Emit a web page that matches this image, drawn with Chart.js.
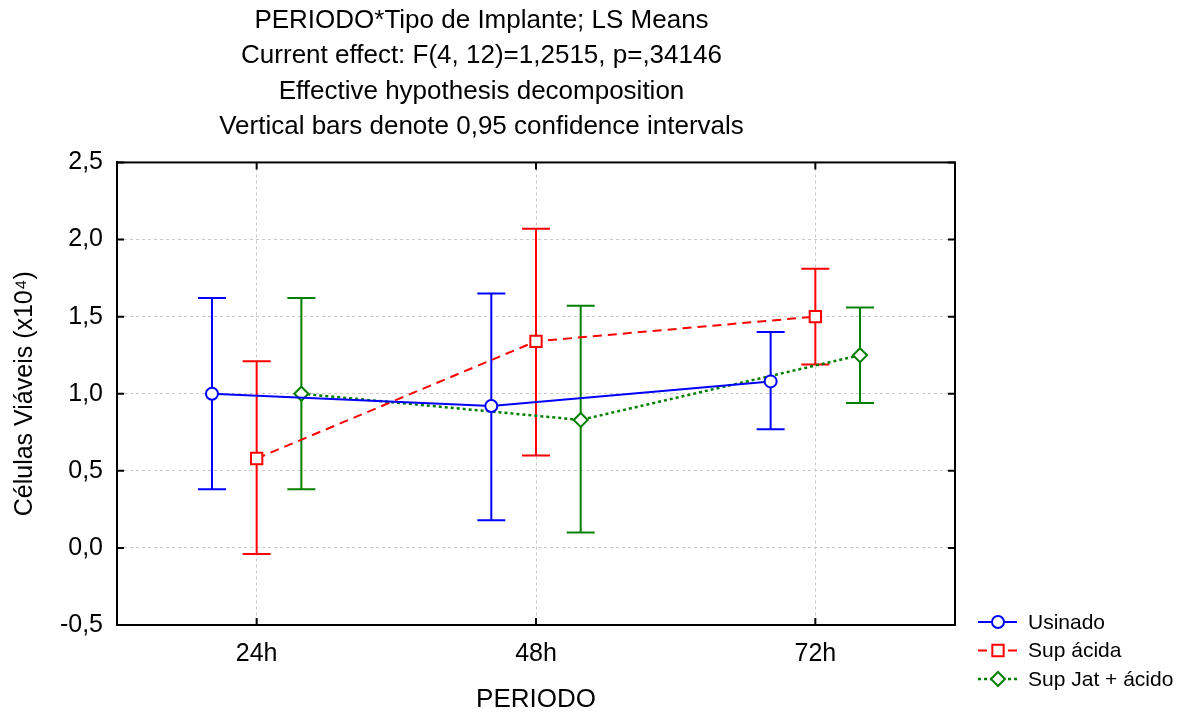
<!DOCTYPE html>
<html>
<head>
<meta charset="utf-8">
<script src="https://cdn.jsdelivr.net/npm/chart.js@4.4.0/dist/chart.umd.min.js"></script>
<style>
html, body { margin: 0; padding: 0; background: #fff; }
#wrap { width: 1194px; height: 713px; }
</style>
</head>
<body>
<div id="wrap"><canvas id="grafico"></canvas></div>
<script>
var periodos = ['24h', '48h', '72h'];

var usinado    = [1.00, 0.92, 1.08];
var usinadoMin = [0.38, 0.18, 0.77];
var usinadoMax = [1.62, 1.65, 1.40];

var supAcida    = [0.58, 1.34, 1.50];
var supAcidaMin = [-0.04, 0.60, 1.19];
var supAcidaMax = [1.21, 2.07, 1.81];

var supJat    = [1.00, 0.83, 1.25];
var supJatMin = [0.38, 0.10, 0.94];
var supJatMax = [1.62, 1.57, 1.56];

var titulo = [
    'PERIODO*Tipo de Implante; LS Means',
    'Current effect: F(4, 12)=1,2515, p=,34146',
    'Effective hypothesis decomposition',
    'Vertical bars denote 0,95 confidence intervals'
];

var fonte = "'Liberation Sans', Arial, Helvetica, sans-serif";

// each series sits a little left / right of the category
function pontos(vals, mins, maxs, desloc) {
    var out = [];
    for (var i = 0; i < vals.length; i++) {
        out.push({ x: i + 1 + desloc, y: vals[i], lo: mins[i], hi: maxs[i] });
    }
    return out;
}

// vertical bars = confidence intervals
var barrasErro = {
    id: 'barrasErro',
    beforeDatasetsDraw: function(chart) {
        var ctx = chart.ctx;
        var ys = chart.scales.y;
        chart.data.datasets.forEach(function(ds, di) {
            var meta = chart.getDatasetMeta(di);
            ctx.save();
            ctx.strokeStyle = ds.borderColor;
            ctx.lineWidth = 2;
            meta.data.forEach(function(pt, i) {
                var raw = ds.data[i];
                var yl = ys.getPixelForValue(raw.lo);
                var yh = ys.getPixelForValue(raw.hi);
                ctx.beginPath();
                ctx.moveTo(pt.x, yl); ctx.lineTo(pt.x, yh);
                ctx.moveTo(pt.x - 14, yl); ctx.lineTo(pt.x + 14, yl);
                ctx.moveTo(pt.x - 14, yh); ctx.lineTo(pt.x + 14, yh);
                ctx.stroke();
            });
            ctx.restore();
        });
    }
};

// box around the plot, inner ticks, and the legend at the bottom right
var moldura = {
    id: 'moldura',
    afterDraw: function(chart) {
        var ctx = chart.ctx;
        var a = chart.chartArea;
        ctx.save();
        ctx.strokeStyle = '#000';
        ctx.lineWidth = 2;
        ctx.strokeRect(a.left, a.top, a.right - a.left, a.bottom - a.top);
        ctx.beginPath();
        chart.scales.y.ticks.forEach(function(t) {
            var y = chart.scales.y.getPixelForValue(t.value);
            ctx.moveTo(a.left, y); ctx.lineTo(a.left + 7, y);
            ctx.moveTo(a.right, y); ctx.lineTo(a.right - 7, y);
        });
        chart.scales.x.ticks.forEach(function(t) {
            var x = chart.scales.x.getPixelForValue(t.value);
            ctx.moveTo(x, a.bottom); ctx.lineTo(x, a.bottom - 7);
            ctx.moveTo(x, a.top); ctx.lineTo(x, a.top + 7);
        });
        ctx.stroke();

        // legend
        var x0 = a.right + 23;
        var y0 = a.bottom - 3;
        ctx.font = '21px ' + fonte;
        ctx.textBaseline = 'middle';
        ctx.textAlign = 'left';
        chart.data.datasets.forEach(function(ds, i) {
            var y = y0 + i * 28.5;
            ctx.strokeStyle = ds.borderColor;
            ctx.lineWidth = ds.borderWidth;
            ctx.setLineDash(ds.borderDash || []);
            ctx.beginPath();
            ctx.moveTo(x0, y); ctx.lineTo(x0 + 39, y);
            ctx.stroke();
            ctx.setLineDash([]);
            ctx.fillStyle = '#fff';
            ctx.lineWidth = 2;
            Chart.helpers.drawPoint(ctx, {
                pointStyle: ds.pointStyle, radius: ds.pointRadius, rotation: 0, borderWidth: 2
            }, x0 + 20, y);
            ctx.fillStyle = '#000';
            ctx.fillText(ds.label, x0 + 50, y + 1);
        });
        ctx.restore();
    }
};

var ctx = document.getElementById('grafico').getContext('2d');

var graph = new Chart(ctx, {
    type: 'line',
    data: {
        datasets: [{
            label: 'Usinado',
            data: pontos(usinado, usinadoMin, usinadoMax, -0.16),
            borderColor: 'rgb(0, 0, 255)',
            borderWidth: 2,
            pointStyle: 'circle',
            pointRadius: 6,
            pointBorderWidth: 2,
            pointBackgroundColor: '#fff'
        }, {
            label: 'Sup ácida',
            data: pontos(supAcida, supAcidaMin, supAcidaMax, 0),
            borderColor: 'rgb(255, 0, 0)',
            borderWidth: 2,
            borderDash: [9, 6],
            pointStyle: 'rect',
            pointRadius: 8,
            pointBorderWidth: 2,
            pointBackgroundColor: '#fff'
        }, {
            label: 'Sup Jat + ácido',
            data: pontos(supJat, supJatMin, supJatMax, 0.16),
            borderColor: 'rgb(0, 128, 0)',
            borderWidth: 2.5,
            borderDash: [3, 3],
            pointStyle: 'rectRot',
            pointRadius: 7,
            pointBorderWidth: 2,
            pointBackgroundColor: '#fff'
        }]
    },
    options: {
        responsive: true,
        maintainAspectRatio: false,
        animation: false,
        layout: { padding: { left: 8, right: 239, top: 0, bottom: 0 } },
        plugins: {
            legend: { display: false },
            tooltip: { enabled: false },
            title: {
                display: true,
                text: titulo,
                color: '#000',
                font: { family: fonte, size: 26, weight: 'normal', lineHeight: 1.36 },
                padding: { top: 3, bottom: 18 }
            }
        },
        scales: {
            x: {
                type: 'linear',
                min: 0.5,
                max: 3.5,
                afterBuildTicks: function(s) {
                    s.ticks = periodos.map(function(p, i) { return { value: i + 1 }; });
                },
                afterFit: function(s) { s.height = 88; },
                ticks: {
                    color: '#000',
                    font: { family: fonte, size: 25 },
                    padding: 14,
                    callback: function(v) { return periodos[v - 1]; }
                },
                grid: { color: '#c8c8c8', lineWidth: 1, drawTicks: false },
                border: { color: '#000', width: 2, dash: [3, 3] },
                title: {
                    display: true,
                    text: 'PERIODO',
                    color: '#000',
                    font: { family: fonte, size: 26, lineHeight: 1 },
                    padding: { top: 0, bottom: 0 }
                }
            },
            y: {
                min: -0.5,
                max: 2.5,
                afterFit: function(s) { s.width = 109; },
                ticks: {
                    stepSize: 0.5,
                    color: '#000',
                    font: { family: fonte, size: 25 },
                    padding: 14,
                    callback: function(v) { return v.toFixed(1).replace('.', ','); }
                },
                grid: { color: '#c8c8c8', lineWidth: 1, drawTicks: false },
                border: { color: '#000', width: 2, dash: [3, 3] },
                title: {
                    display: true,
                    text: 'Células Viáveis (x10⁴)',
                    color: '#000',
                    font: { family: fonte, size: 25 },
                    padding: { top: 2, bottom: 4 }
                }
            }
        }
    },
    plugins: [barrasErro, moldura]
});
</script>
</body>
</html>
